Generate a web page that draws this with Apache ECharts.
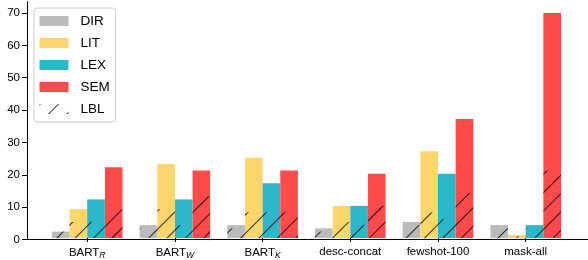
<!DOCTYPE html>
<html><head><meta charset="utf-8">
<script src="https://cdn.jsdelivr.net/npm/echarts@6/dist/echarts.min.js"></script>
<style>html,body{margin:0;padding:0;background:#fff}#c{width:588px;height:260px}</style>
</head><body><div id="c"></div>
<script>
const categories = ['BART_R', 'BART_W', 'BART_K', 'desc-concat', 'fewshot-100', 'mask-all'];
const dirValues = [2, 4, 4, 3, 5, 4];
const litValues = [9, 23, 25, 10, 27, 1];
const lexValues = [12, 12, 17, 10, 20, 4];
const semValues = [22, 21, 21, 20, 37, 70];
const lblDir = [2, 3, 3, 2, 4, 3];
const lblLit = [5, 9, 8, 5, 8, 0.5];
const lblLex = [5, 4, 8, 4, 6, 3];
const lblSem = [9, 13, 8, 10, 14, 21];
const yTicks = [0, 10, 20, 30, 40, 50, 60, 70];
const legendNames = ['DIR', 'LIT', 'LEX', 'SEM', 'LBL'];

const FONT = 'Liberation Sans';
const colors = { DIR: '#bbbbbb', LIT: '#ffd66c', LEX: '#2db8ca', SEM: '#ff4b4b' };
const BW = 17.65;
const hatch = { symbol: 'rect', symbolSize: 1, dashArrayX: [1, 0], dashArrayY: [0.8, 11.6],
  rotation: -Math.PI / 4, color: 'rgba(0,0,0,0.8)' };

function mainSeries(name, data) {
  return { name, type: 'bar', xAxisIndex: 1, yAxisIndex: 1, data, barWidth: BW, barGap: '0%',
    itemStyle: { color: colors[name] } };
}
function hatchSeries(data) {
  return { name: 'LBL', type: 'bar', xAxisIndex: 2, yAxisIndex: 1, data, barWidth: BW, barGap: '0%',
    itemStyle: { color: 'rgba(0,0,0,0)', decal: hatch } };
}

const chart = echarts.init(document.getElementById('c'), null, { renderer: 'canvas' });
chart.setOption({
  animation: false,
  grid: [
    { left: 27, right: 0, top: 1.7, bottom: 20.5 },
    { left: 43.35, right: 18.45, top: 1.7, bottom: 20.5 }
  ],
  legend: {
    data: legendNames, orient: 'vertical', left: 34, top: 8, icon: 'rect',
    itemWidth: 29, itemHeight: 10, itemGap: 8, padding: [6, 6, 6, 5.5],
    borderColor: '#cccccc', borderWidth: 1, borderRadius: 3, backgroundColor: 'rgba(255,255,255,0.8)',
    textStyle: { fontFamily: FONT, fontSize: 13.5, color: '#000', padding: [0, 0, 0, 7] }
  },
  xAxis: [
    { gridIndex: 0, type: 'value', min: 0, max: 1,
      axisLine: { show: true, lineStyle: { color: '#000', width: 1 } },
      axisTick: { show: false }, axisLabel: { show: false }, splitLine: { show: false } },
    { gridIndex: 1, type: 'category', data: categories, position: 'bottom',
      axisLine: { show: false },
      axisTick: { show: true, alignWithLabel: true, interval: 0, length: 4, lineStyle: { color: '#000', width: 1 } },
      axisLabel: { interval: 0, margin: 8, fontFamily: FONT, fontSize: 11.5, color: '#000',
        formatter: v => { const m = v.match(/^(.*)_(.)$/); return m ? m[1] + '{sub|' + m[2] + '}' : v; },
        rich: { sub: { fontFamily: FONT, fontSize: 8.5, fontStyle: 'italic', color: '#000', padding: [5, 0, 0, 0] } } },
      splitLine: { show: false } },
    { gridIndex: 1, type: 'category', data: categories, position: 'top', show: false }
  ],
  yAxis: [
    { gridIndex: 0, type: 'value', min: 0, max: 73.5, interval: 10,
      axisLine: { show: true, lineStyle: { color: '#000', width: 1 } },
      axisTick: { show: true, length: 5, customValues: yTicks, lineStyle: { color: '#000', width: 1 } },
      axisLabel: { customValues: yTicks, margin: 7, fontFamily: FONT, fontSize: 11.5, color: '#000' },
      splitLine: { show: false } },
    { gridIndex: 1, type: 'value', min: 0, max: 73.5, show: false, splitLine: { show: false } }
  ],
  series: [
    mainSeries('DIR', dirValues), mainSeries('LIT', litValues),
    mainSeries('LEX', lexValues), mainSeries('SEM', semValues),
    hatchSeries(lblDir), hatchSeries(lblLit), hatchSeries(lblLex), hatchSeries(lblSem)
  ]
});
</script></body></html>
